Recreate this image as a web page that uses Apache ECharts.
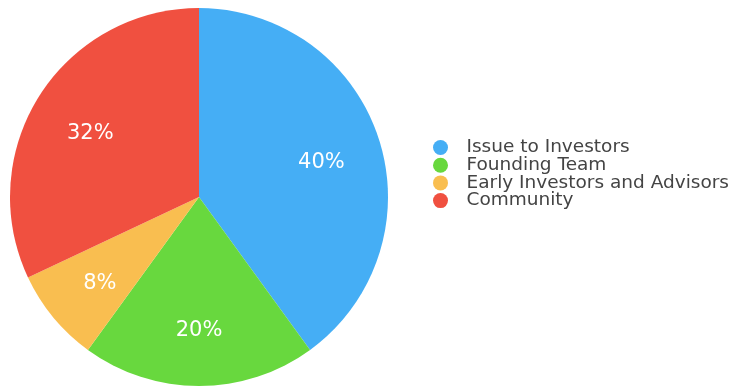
<!DOCTYPE html>
<html><head><meta charset="utf-8">
<script src="https://cdn.jsdelivr.net/npm/echarts@6/dist/echarts.min.js"></script>
<style>html,body{margin:0;padding:0;background:#fff}#c{width:736px;height:390px}</style>
</head><body><div id="c"></div>
<script>
const categories = ["Issue to Investors", "Founding Team", "Early Investors and Advisors", "Community"];
const values = [40, 20, 8, 32];
const colors = ["#45AEF5", "#68D83E", "#F9BE50", "#F05040"];

const chart = echarts.init(document.getElementById('c'), null, {renderer: 'canvas'});
const R = 189;
chart.setOption({
  animation: false,
  color: colors,
  legend: {
    orient: 'vertical',
    left: 428, top: 133,
    icon: 'circle',
    itemWidth: 30, itemHeight: 15, itemGap: -1.3,
    data: categories,
    textStyle: {fontFamily: 'DejaVu Sans', fontSize: 18.5, color: '#444', padding: [0,0,0,6]}
  },
  series: [{
    type: 'pie',
    center: [199, 197],
    radius: [0, R],
    startAngle: 90,
    label: {show: false},
    labelLine: {show: false},
    silent: true,
    data: categories.map((n, i) => ({name: n, value: values[i], itemStyle: {color: colors[i]}}))
  }, {
    type: 'pie',
    center: [199, 197],
    radius: [R * 0.33, R],
    startAngle: 90,
    silent: true,
    itemStyle: {color: 'rgba(0,0,0,0)'},
    label: {show: true, position: 'inside', formatter: '{c}%', color: '#fff', fontFamily: 'DejaVu Sans', fontSize: 21, offset: [0, 5]},
    labelLine: {show: false},
    data: categories.map((n, i) => ({name: n, value: values[i]}))
  }]
});
</script></body></html>
